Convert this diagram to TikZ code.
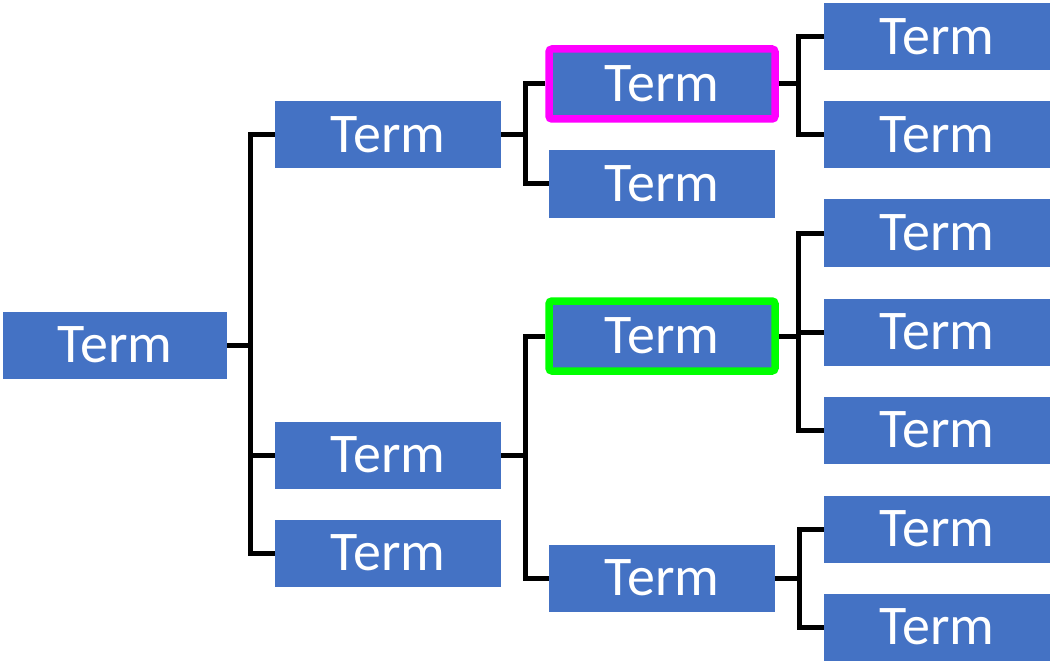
\documentclass[tikz,border=0pt]{standalone}
\usepackage{fontspec}
\setmainfont{Carlito}
\usetikzlibrary{positioning}
\definecolor{termblue}{HTML}{4472C4}
\definecolor{hlpink}{HTML}{FF00FF}
\definecolor{hlgreen}{HTML}{00FF00}
\begin{document}
\begin{tikzpicture}[x=1pt,y=-1pt,
  term/.style={fill=termblue,text=white,minimum width=226pt,minimum height=67pt,
    inner sep=0pt,font=\fontsize{56}{60}\selectfont},
  mark pink/.style={draw=hlpink,line width=7.5pt,rounded corners=3pt,minimum height=70pt},
  mark green/.style={draw=hlgreen,line width=7.5pt,rounded corners=3pt,minimum height=70pt},
  link/.style={line width=5pt}]
   \useasboundingbox (0,0) rectangle (1054,663);
   % root
   \node[term,minimum width=224pt] (t_0) at (115,345) {Term};
   % first level
   \node[term] (t_a) at (388,135) {Term};
   \node[term] (t_b) at (388,455) {Term};
   \node[term] (t_c) at (388,553) {Term};
   % second level
   \node[term,mark pink] (t_aa) at (662,84) {Term};
   \node[term] (t_ab) at (662,184) {Term};
   \node[term,mark green] (t_ba) at (662,336) {Term};
   \node[term] (t_bb) at (662,578) {Term};
   % third level
   \node[term] (t_aaa) at (937,37) {Term};
   \node[term] (t_aab) at (937,135) {Term};
   \node[term] (t_baa) at (937,233) {Term};
   \node[term] (t_bab) at (937,332) {Term};
   \node[term] (t_bac) at (937,430) {Term};
   \node[term] (t_bba) at (937,529) {Term};
   \node[term] (t_bbb) at (937,627) {Term};
   % connectors
   \draw[link] (t_0.east) -- ++(23,0) coordinate (j_0)
    (j_0) |- (t_a.west) (j_0) |- (t_b.west) (j_0) |- (t_c.west);
   \draw[link] (t_a.east) -- ++(24,0) coordinate (j_a)
    (j_a) |- (t_aa.west) (j_a) |- (t_ab.west);
   \draw[link] (t_b.east) -- ++(24,0) coordinate (j_b)
    (j_b) |- (t_ba.west) (j_b) |- (t_bb.west);
   \draw[link] (t_aa.east) -- ++(20,0) coordinate (j_aa)
    (j_aa) |- (t_aaa.west) (j_aa) |- (t_aab.west);
   \draw[link] (t_ba.east) -- ++(20,0) coordinate (j_ba)
    (j_ba) |- (t_baa.west) (j_ba) |- (t_bab.west) (j_ba) |- (t_bac.west);
   \draw[link] (t_bb.east) -- ++(24,0) coordinate (j_bb)
    (j_bb) |- (t_bba.west) (j_bb) |- (t_bbb.west);
\end{tikzpicture}
\end{document}
